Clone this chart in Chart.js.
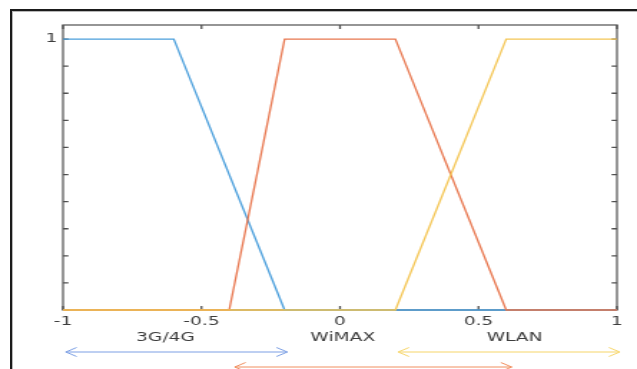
<!DOCTYPE html>
<html lang="en">
<head>
    <meta charset="UTF-8">
    <title>Network membership functions</title>
    <script src="https://cdn.jsdelivr.net/npm/chart.js"></script>
    <style>
        body { margin: 0; background: #fff; }
        #frame {
            position: absolute; left: 10px; top: 9px; width: 640px; height: 380px;
            border-left: 2px solid #1b1b1b; border-top: 2px solid #1b1b1b;
            box-shadow: inset 1px 1px 0 #b8b8b8;
        }
        /* the picture is stretched sideways, so draw narrow and scale up */
        #wrap {
            position: absolute; left: 0; top: 0; width: 445px; height: 369px;
            transform: scaleX(1.4315); transform-origin: 0 0;
        }
    </style>
</head>
<body>
    <div id="frame"></div>
    <div id="wrap"><canvas id="myChart" width="445" height="369"></canvas></div>

    <script>
        // membership functions
        const blueX = [-1, -0.6, -0.2, 1];
        const blueY = [1, 1, 0, 0];
        const orangeX = [-1, -0.4, -0.2, 0.2, 0.6, 1];
        const orangeY = [0, 0, 1, 1, 0, 0];
        const yellowX = [-1, 0.2, 0.6, 1];
        const yellowY = [0, 0, 1, 1];

        // axis ticks
        const xTickValues = [-1, -0.5, 0, 0.5, 1];
        const xTickLabels = ['-1', '-0.5', '0', '0.5', '1'];
        const yTickValues = [0, 0.1, 0.2, 0.3, 0.4, 0.5, 0.6, 0.7, 0.8, 0.9, 1];
        const yTickLabels = ['', '', '', '', '', '', '', '', '', '', '1'];

        // labels and range arrows under the axis
        const bandNames = ['3G/4G', 'WiMAX', 'WLAN'];
        const bandLabelX = [-0.63, 0.01, 0.63];
        const arrowFrom = [-0.99, -0.38, 0.21];
        const arrowTo = [-0.19, 0.62, 1.01];
        const arrowColors = ['#7c9fe4', '#f08e5e', '#f6d569'];
        const arrowRows = [352, 367, 352];

        const pts = (xs, ys) => xs.map((x, i) => ({ x: x, y: ys[i] }));

        function drawArrow(ctx, x1, x2, y, color) {
            const L = 7.6, h = 4.5;
            ctx.strokeStyle = color;
            ctx.lineWidth = 1;
            ctx.beginPath();
            ctx.moveTo(x1, y); ctx.lineTo(x2, y);
            ctx.moveTo(x1 + L, y - h); ctx.lineTo(x1, y); ctx.lineTo(x1 + L, y + h);
            ctx.moveTo(x2 - L, y - h); ctx.lineTo(x2, y); ctx.lineTo(x2 - L, y + h);
            ctx.stroke();
        }

        const axesBox = {
            id: 'axesBox',
            beforeDatasetsDraw(chart) {
                const { ctx, chartArea: a, scales: { x, y } } = chart;
                ctx.save();
                ctx.strokeStyle = '#6a6a6a';
                ctx.lineWidth = 1.4;
                ctx.strokeRect(a.left, a.top, a.right - a.left, a.bottom - a.top);
                ctx.strokeStyle = '#505050';
                ctx.lineWidth = 1.3;
                ctx.beginPath();
                yTickValues.forEach(v => {
                    const py = y.getPixelForValue(v);
                    ctx.moveTo(a.left, py); ctx.lineTo(a.left + 3.8, py);
                    ctx.moveTo(a.right, py); ctx.lineTo(a.right - 3.8, py);
                });
                xTickValues.forEach(v => {
                    const px = x.getPixelForValue(v);
                    ctx.moveTo(px, a.top); ctx.lineTo(px, a.top + 4);
                    ctx.moveTo(px, a.bottom); ctx.lineTo(px, a.bottom - 4);
                });
                ctx.stroke();
                ctx.restore();
            },
            afterDraw(chart) {
                const { ctx, scales: { x } } = chart;
                ctx.save();
                ctx.font = '13px "DejaVu Sans"';
                ctx.fillStyle = '#3d3d3d';
                ctx.textAlign = 'center';
                ctx.textBaseline = 'middle';
                bandNames.forEach((name, i) => {
                    ctx.fillText(name, x.getPixelForValue(bandLabelX[i]), 338);
                });
                arrowFrom.forEach((v, i) => {
                    drawArrow(ctx, x.getPixelForValue(v), x.getPixelForValue(arrowTo[i]), arrowRows[i], arrowColors[i]);
                });
                ctx.restore();
            }
        };

        const ctx = document.getElementById('myChart').getContext('2d');
        new Chart(ctx, {
            type: 'line',
            data: {
                datasets: [{
                    data: pts(blueX, blueY),
                    borderColor: '#4b9fdc',
                    borderWidth: 1.3,
                    order: 3
                }, {
                    data: pts(orangeX, orangeY),
                    borderColor: '#e8774f',
                    borderWidth: 1.3,
                    order: 2
                }, {
                    data: pts(yellowX, yellowY),
                    borderColor: '#f4c655',
                    borderWidth: 1.3,
                    order: 1
                }]
            },
            options: {
                responsive: false,
                animation: false,
                clip: 4,
                elements: { point: { radius: 0 }, line: { tension: 0 } },
                layout: { padding: { left: 0, right: 14, top: 25, bottom: 0 } },
                plugins: { legend: { display: false }, tooltip: { enabled: false } },
                scales: {
                    x: {
                        type: 'linear',
                        min: -1,
                        max: 1,
                        border: { display: false },
                        grid: { display: false, drawTicks: false },
                        afterBuildTicks: s => { s.ticks = xTickValues.map(v => ({ value: v })); },
                        ticks: {
                            autoSkip: false,
                            maxRotation: 0,
                            padding: 4,
                            color: '#3d3d3d',
                            font: { family: 'DejaVu Sans', size: 13 },
                            callback: (v, i) => xTickLabels[i]
                        },
                        afterFit: s => { s.height = 59; }
                    },
                    y: {
                        min: 0,
                        max: 1.052,
                        border: { display: false },
                        grid: { display: false, drawTicks: false },
                        afterBuildTicks: s => { s.ticks = yTickValues.map(v => ({ value: v })); },
                        ticks: {
                            autoSkip: false,
                            padding: 4,
                            color: '#3d3d3d',
                            font: { family: 'DejaVu Sans', size: 13 },
                            callback: (v, i) => yTickLabels[i]
                        },
                        afterFit: s => { s.width = 44; }
                    }
                }
            },
            plugins: [axesBox]
        });
    </script>
</body>
</html>
